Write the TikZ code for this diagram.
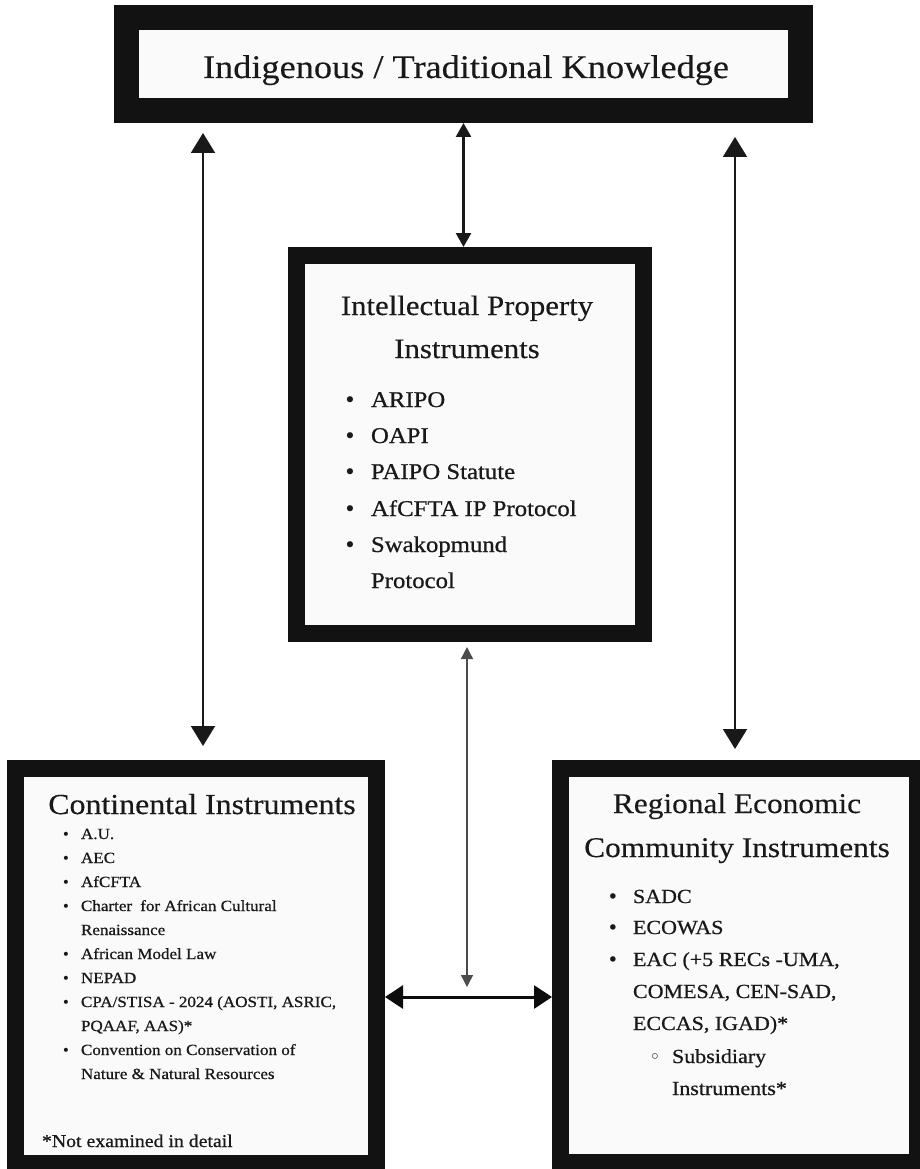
\documentclass[tikz,border=0pt]{standalone}
\usepackage{fontspec}
\setmainfont{Liberation Serif}
\newfontfamily\rf[FakeStretch=1.1,FakeBold=0.3]{Liberation Serif}
\newfontfamily\rfi[FakeStretch=1.1,FakeBold=0.7]{Liberation Serif}
\newfontfamily\dvs{DejaVu Sans}
\usetikzlibrary{arrows.meta}
\begin{document}
\begin{tikzpicture}[x=1pt,y=-1pt,
  frame/.style={draw=black!93,fill=black!2,inner sep=0pt},
  txt/.style={inner sep=0pt,outer sep=0pt,text=black!90},
  ttl/.style={txt,anchor=base,font=\rf\fontsize{33}{40}\selectfont},
  hd/.style={txt,anchor=base,font=\rf\fontsize{28.5}{34}\selectfont},
  mitem/.style={txt,anchor=base west,font=\rfi\fontsize{22.5}{27}\selectfont},
  mbul/.style={txt,anchor=base,font=\dvs\fontsize{21}{27}\selectfont},
  litem/.style={txt,anchor=base west,font=\rfi\fontsize{15.5}{19}\selectfont},
  lbul/.style={txt,anchor=base,font=\dvs\fontsize{14}{19}\selectfont},
  ritem/.style={txt,anchor=base west,font=\rfi\fontsize{20}{24}\selectfont},
  rbul/.style={txt,anchor=base,font=\dvs\fontsize{19}{24}\selectfont},
  rsub/.style={txt,anchor=base,font=\dvs\fontsize{19}{24}\selectfont},
  note/.style={txt,anchor=base west,font=\rfi\fontsize{18}{22}\selectfont},
  bigv/.style={line width=2pt,draw=black!90,{Triangle[width=24pt,length=20pt]}-{Triangle[width=24pt,length=20pt]}},
  midv/.style={line width=2.5pt,draw=black!90,{Triangle[width=15pt,length=14pt]}-{Triangle[width=15pt,length=14pt]}},
  thinv/.style={line width=1.3pt,draw=black!70,{Triangle[width=12pt,length=12pt]}-{Triangle[width=12pt,length=12pt]}},
  horz/.style={line width=3pt,draw=black!95,{Triangle[width=23pt,length=18pt]}-{Triangle[width=23pt,length=18pt]}}
]
\fill[white] (0,0) rectangle (920,1169);
\useasboundingbox (0,0) rectangle (920,1169);
\clip (0,0) rectangle (920,1169);

% boxes
\node[frame,line width=25pt,outer sep=12.5pt,minimum width=674pt,minimum height=93pt] (top) at (463.5,64) {};
\node[frame,line width=17pt,outer sep=8.5pt,minimum width=347pt,minimum height=378pt] (mid) at (470,444.5) {};
\node[frame,line width=17pt,outer sep=8.5pt,minimum width=361pt,minimum height=395pt] (left) at (196,966) {};
\node[frame,line width=17pt,outer sep=8.5pt,minimum width=357pt,minimum height=394pt] (right) at (739,965.5) {};

% connectors
\coordinate (la1) at (203,133);
\coordinate (la2) at (203,746);
\coordinate (ra1) at (735,137);
\coordinate (ra2) at (735,749);
\coordinate (ta1) at (467,647);
\coordinate (ta2) at (467,987);
\coordinate (hy) at (0,997);
\draw[bigv] (la1) -- (la2);
\draw[bigv] (ra1) -- (ra2);
\draw[midv] (top.south) -- (top.south |- mid.north);
\draw[thinv] (ta1) -- (ta2);
\draw[horz] (left.east |- hy) -- (right.west |- hy);

% top text
\node[ttl] (t0) at (466,78) {Indigenous / Traditional Knowledge};

% middle box text
\node[hd,font=\rf\fontsize{28}{34}\selectfont] (mh1) at (467,315) {Intellectual Property};
\node[hd,font=\rf\fontsize{28}{34}\selectfont] (mh2) at (467,358) {Instruments};
\node[mbul] (mb1) at (350,407) {•};
\node[mitem] (m1) at (371,407) {ARIPO};
\node[mbul] (mb2) at (350,443) {•};
\node[mitem] (m2) at (371,443) {OAPI};
\node[mbul] (mb3) at (350,479) {•};
\node[mitem] (m3) at (371,479) {PAIPO Statute};
\node[mbul] (mb4) at (350,516) {•};
\node[mitem] (m4) at (371,516) {AfCFTA IP Protocol};
\node[mbul] (mb5) at (350,552) {•};
\node[mitem] (m5) at (371,552) {Swakopmund};
\node[mitem] (m5b) at (371,588) {Protocol};

% left box text
\node[hd,font=\rf\fontsize{29}{34}\selectfont] (lh) at (202,814) {Continental Instruments};
\node[lbul] (lb1) at (66,839) {•};
\node[litem] (l1) at (81,839) {A.U.};
\node[lbul] (lb2) at (66,863) {•};
\node[litem] (l2) at (81,863) {AEC};
\node[lbul] (lb3) at (66,887) {•};
\node[litem] (l3) at (81,887) {AfCFTA};
\node[lbul] (lb4) at (66,911) {•};
\node[litem] (l4) at (81,911) {Charter\hspace{0.25em} for African Cultural};
\node[litem] (l4b) at (81,935) {Renaissance};
\node[lbul] (lb5) at (66,959) {•};
\node[litem] (l5) at (81,959) {African Model Law};
\node[lbul] (lb6) at (66,983) {•};
\node[litem] (l6) at (81,983) {NEPAD};
\node[lbul] (lb7) at (66,1007) {•};
\node[litem] (l7) at (81,1007) {CPA/STISA - 2024 (AOSTI, ASRIC,};
\node[litem] (l7b) at (81,1031) {PQAAF, AAS)*};
\node[lbul] (lb8) at (66,1055) {•};
\node[litem] (l8) at (81,1055) {Convention on Conservation of};
\node[litem] (l8b) at (81,1079) {Nature \& Natural Resources};
\node[note] (ln) at (42,1147) {*Not examined in detail};

% right box text
\node[hd] (rh1) at (737,813) {Regional Economic};
\node[hd] (rh2) at (737,857) {Community Instruments};
\node[rbul] (rb1) at (613,903) {•};
\node[ritem] (r1) at (633,903) {SADC};
\node[rbul] (rb2) at (613,934) {•};
\node[ritem] (r2) at (633,934) {ECOWAS};
\node[rbul] (rb3) at (613,966) {•};
\node[ritem] (r3) at (633,966) {EAC (+5 RECs -UMA,};
\node[ritem] (r3b) at (633,998) {COMESA, CEN-SAD,};
\node[ritem] (r3c) at (633,1030) {ECCAS, IGAD)*};
\node[rsub] (rs1) at (655,1063) {◦};
\node[ritem] (r4) at (672,1063) {Subsidiary};
\node[ritem] (r4b) at (672,1095) {Instruments*};
\end{tikzpicture}
\end{document}
